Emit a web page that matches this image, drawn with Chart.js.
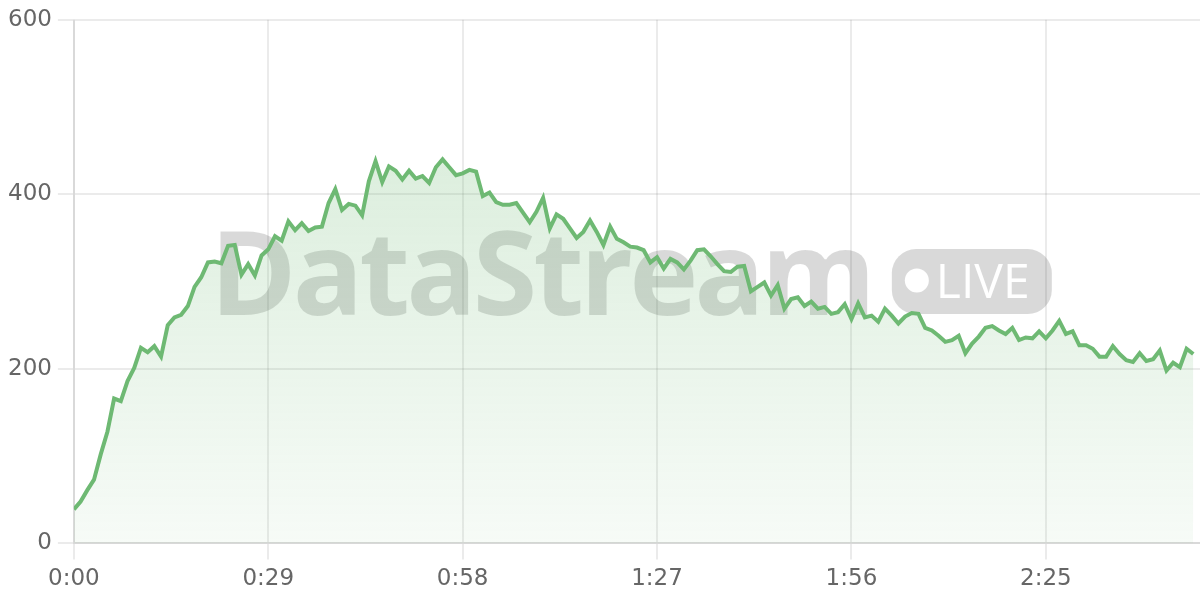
<!DOCTYPE html>
<html>
<head>
<meta charset="utf-8">
<title>DataStream</title>
<script src="https://cdn.jsdelivr.net/npm/chart.js@4/dist/chart.umd.min.js"></script>
<style>
  html, body { margin: 0; padding: 0; background: #fff; }
  #wrap { width: 1200px; height: 600px; }
</style>
</head>
<body>
<div id="wrap"><canvas id="streamChart"></canvas></div>
<script>
// Werte pro Sekunde (0:00 .. 2:47)
const values = [
  39, 48, 61, 73, 102, 128, 166, 163, 186, 201,
  224, 219, 226, 214, 250, 259, 262, 272, 294, 305,
  322, 323, 321, 341, 342, 308, 320, 307, 330, 337,
  352, 347, 369, 359, 367, 358, 362, 363, 390, 406,
  382, 389, 387, 376, 415, 438, 414, 432, 427, 417,
  427, 418, 421, 413, 431, 440, 431, 422, 424, 428,
  426, 398, 402, 391, 388, 388, 390, 379, 368, 380,
  396, 361, 377, 372, 361, 350, 357, 370, 357, 342,
  363, 349, 345, 340, 339, 336, 322, 328, 315, 326,
  322, 314, 324, 336, 337, 329, 320, 312, 311, 317,
  318, 289, 294, 299, 284, 296, 269, 280, 282, 272,
  277, 269, 271, 263, 265, 274, 257, 275, 259, 261,
  254, 269, 261, 252, 260, 264, 263, 247, 244, 238,
  231, 233, 238, 218, 229, 237, 247, 249, 244, 240,
  247, 233, 236, 235, 243, 235, 244, 255, 240, 243,
  227, 227, 223, 214, 214, 226, 217, 210, 208, 218,
  209, 211, 221, 198, 207, 202, 223, 217
];
const xTicks = [0, 29, 58, 87, 116, 145];   // Sekunden
const yTicks = [0, 200, 400, 600];
const X_MAX = 168;
const WATERMARK = "DataStream";
const BADGE = "LIVE";

const LINE = "rgb(110,185,115)";
const green = (a) => `rgba(110,185,115,${a})`;
const GRID = "rgba(0,0,0,0.08)";
const axisFont = { family: "'DejaVu Sans', sans-serif", size: 23 };

const fmtTime = (s) => Math.floor(s / 60) + ":" + String(s % 60).padStart(2, "0");

function roundRect(ctx, x, y, w, h, r) {
  ctx.beginPath();
  ctx.moveTo(x + r, y);
  ctx.arcTo(x + w, y, x + w, y + h, r);
  ctx.arcTo(x + w, y + h, x, y + h, r);
  ctx.arcTo(x, y + h, x, y, r);
  ctx.arcTo(x, y, x + w, y, r);
  ctx.closePath();
}

// Wasserzeichen "DataStream (•LIVE)" mittig im Plotbereich
const watermark = {
  id: "watermark",
  beforeDatasetsDraw(chart) {
    const { ctx, chartArea: a } = chart;
    const cx = (a.left + a.right) / 2, cy = (a.top + a.bottom) / 2;
    ctx.save();
    ctx.font = "bold 117px 'Open Sans', sans-serif";
    ctx.letterSpacing = "-4px";
    const tw = ctx.measureText(WATERMARK).width;
    const pillW = 160, pillH = 65, gap = 20;
    const x0 = cx - 6 - (tw + gap + pillW) / 2;
    ctx.fillStyle = "rgba(0,0,0,0.15)";
    ctx.textBaseline = "alphabetic";
    ctx.fillText(WATERMARK, x0, cy + 33);

    const px = x0 + tw + gap, py = cy - pillH / 2;
    roundRect(ctx, px, py, pillW, pillH, 24);
    ctx.fill();
    ctx.fillStyle = "#fff";
    ctx.beginPath();
    ctx.arc(px + 25, cy - 1, 12, 0, Math.PI * 2);
    ctx.fill();
    ctx.letterSpacing = "0px";
    ctx.font = "48px 'Open Sans', sans-serif";
    ctx.fillText(BADGE, px + 44, cy + 16);
    ctx.restore();
  }
};

new Chart(document.getElementById("streamChart"), {
  type: "line",
  data: {
    datasets: [{
      data: values.map((v, i) => ({ x: i, y: v })),
      borderColor: LINE,
      borderWidth: 4,
      pointRadius: 0,
      tension: 0,
      fill: "origin",
      backgroundColor: (c) => {
        const a = c.chart.chartArea;
        if (!a) return green(0.15);
        const g = c.chart.ctx.createLinearGradient(0, a.top, 0, a.bottom);
        g.addColorStop(0, green(0.3));
        g.addColorStop(1, green(0.06));
        return g;
      }
    }]
  },
  options: {
    responsive: true, maintainAspectRatio: false, animation: false,
    layout: { padding: { left: 2, top: 6, right: 0, bottom: 1 } },
    plugins: { legend: { display: false }, tooltip: { enabled: false } },
    scales: {
      x: {
        type: "linear", min: 0, max: X_MAX,
        afterBuildTicks: (s) => { s.ticks = xTicks.map(v => ({ value: v })); },
        ticks: { callback: fmtTime, color: "#666", font: axisFont, padding: 6, maxRotation: 0, autoSkip: false },
        grid: { color: GRID, lineWidth: 2, tickLength: 16 },
        border: { color: GRID, width: 2 }
      },
      y: {
        min: 0, max: 600,
        afterBuildTicks: (s) => { s.ticks = yTicks.map(v => ({ value: v })); },
        ticks: { color: "#666", font: axisFont, padding: 6 },
        grid: { color: GRID, lineWidth: 2, tickLength: 16 },
        border: { color: GRID, width: 2 }
      }
    }
  },
  plugins: [watermark]
});
</script>
</body>
</html>
